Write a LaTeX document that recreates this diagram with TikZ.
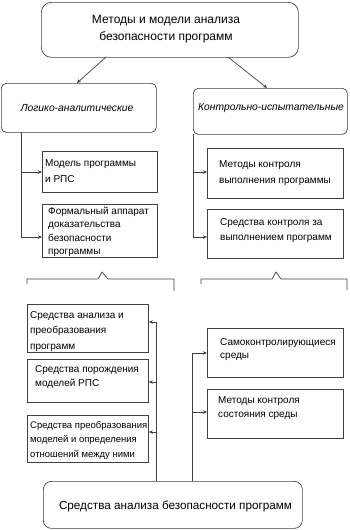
\documentclass[tikz,border=0pt]{standalone}
\usepackage{fontspec}
\setmainfont{Liberation Sans}
\usetikzlibrary{arrows.meta}
\begin{document}
\begin{tikzpicture}[x=1pt,y=-1pt,
  ln/.style={draw=black!75, line width=0.7pt},
  arr/.style={ln, -{Stealth[length=4pt,width=3.5pt]}},
  box/.style={ln, minimum width=#1, inner sep=0pt, anchor=north west},
  rbox/.style={ln, rounded corners=8pt, inner sep=0pt, anchor=north west},
  txt/.style={font=\fontsize{10}{#1}\selectfont, align=left, anchor=north west, inner sep=0pt},
  txt/.default=15,
  ital/.style={font=\fontsize{10.3}{12}\selectfont\itshape, inner sep=0pt},
  ttl/.style={font=\fontsize{12}{17}\selectfont, align=center, inner sep=0pt}]
\useasboundingbox (0,0) rectangle (350,530);
% top
\node[rbox, rounded corners=10pt, minimum width=257pt, minimum height=55pt] (top) at (41,2) {};
\node[ttl] (toptxt) at (166,29.5) {Методы и модели анализа\\безопасности программ};
% second level
\node[rbox, rounded corners=5pt, minimum width=155pt, minimum height=49pt] (L) at (1,83) {};
\node[ital] (Ltxt) at (77,108) {Логико-аналитические};
\node[rbox, rounded corners=5pt, minimum width=154pt, minimum height=46pt] (R) at (193,88) {};
\node[ital] (Rtxt) at (271,108) {Контрольно-испытательные};
\coordinate (t1) at (106,57);
\coordinate (t2) at (228,57);
\draw[arr] (t1) -- (77,83);
\draw[arr] (t2) -- (267,88);
% left branch
\node[box=115pt, minimum height=41pt] (M1) at (42,151) {};
\node[txt=16] (M1t) at (45,159) {Модель программы\\и РПС};
\node[box=115pt, minimum height=53pt] (M2) at (42,204) {};
\node[txt=13.5] (M2t) at (48,206.5) {Формальный аппарат\\доказательства\\безопасности\\программы};
\coordinate (lv) at (21,132);
\coordinate (lv1) at (21,172);
\coordinate (lv2) at (21,237);
\draw[ln] (lv) -- (lv2);
\draw[arr] (lv1) -- (M1.west |- lv1);
\draw[arr] (lv2) -- (M2.west |- lv2);
% right branch
\node[box=136pt, minimum height=50pt] (K1) at (207,148) {};
\node[txt=16] (K1t) at (219,160) {Методы контроля\\выполнения программы};
\node[box=136pt, minimum height=49pt] (K2) at (207,209) {};
\node[txt=15] (K2t) at (220,218) {Средства контроля за\\выполнением программ};
\coordinate (rv) at (193,134);
\coordinate (rv1) at (193,172);
\coordinate (rv2) at (193,237);
\draw[ln] (rv) -- (rv2);
\draw[arr] (rv1) -- (K1.west |- rv1);
\draw[arr] (rv2) -- (K2.west |- rv2);
% braces
\draw[ln] (27,284) -- (27,279) -- (98,279) -- (102,272) -- (108,279) -- (174,279) -- (174,291);
\draw[ln] (201,284) -- (201,279) -- (272,279) -- (276,272) -- (281,279) -- (347,279) -- (347,290);
% lower left group
\node[box=121pt, minimum height=48pt] (S1) at (27,304) {};
\node[txt=15.5] (S1t) at (30,311) {Средства анализа и\\преобразования\\программ};
\node[box=121pt, minimum height=43pt] (S2) at (27,359) {};
\node[txt=14] (S2t) at (35,365) {Средства порождения\\моделей РПС};
\node[box=121pt, minimum height=47pt] (S3) at (27,415) {};
\node[txt=14.5, font=\fontsize{9.5}{14.5}\selectfont] (S3t) at (30,421) {Средства преобразования\\моделей и определения\\отношений между ними};
% lower right group
\node[box=136pt, minimum height=49pt] (C1) at (207,328) {};
\node[txt=13] (C1t) at (220,338) {Самоконтролирующиеся\\среды};
\node[box=136pt, minimum height=49pt] (C2) at (207,389) {};
\node[txt=14] (C2t) at (218,396) {Методы контроля\\состояния среды};
% bottom
\node[rbox, minimum width=259pt, minimum height=47pt] (bot) at (43,481) {};
\node[font=\fontsize{11.7}{14}\selectfont, inner sep=0pt] (bottxt) at (175.5,506) {Средства анализа безопасности программ};
% connectors from bottom
\coordinate (bl) at (156,322);
\coordinate (bl2) at (156,382);
\coordinate (bl3) at (156,432);
\draw[ln] (bl) -- (bl |- bot.north);
\draw[arr] (bl) -- (S1.east |- bl);
\draw[arr] (bl2) -- (S2.east |- bl2);
\draw[arr] (bl3) -- (S3.east |- bl3);
\coordinate (br) at (192,353);
\coordinate (br2) at (192,412);
\draw[ln] (br) -- (br |- bot.north);
\draw[arr] (br) -- (C1.west |- br);
\draw[arr] (br2) -- (C2.west |- br2);
\end{tikzpicture}
\end{document}
